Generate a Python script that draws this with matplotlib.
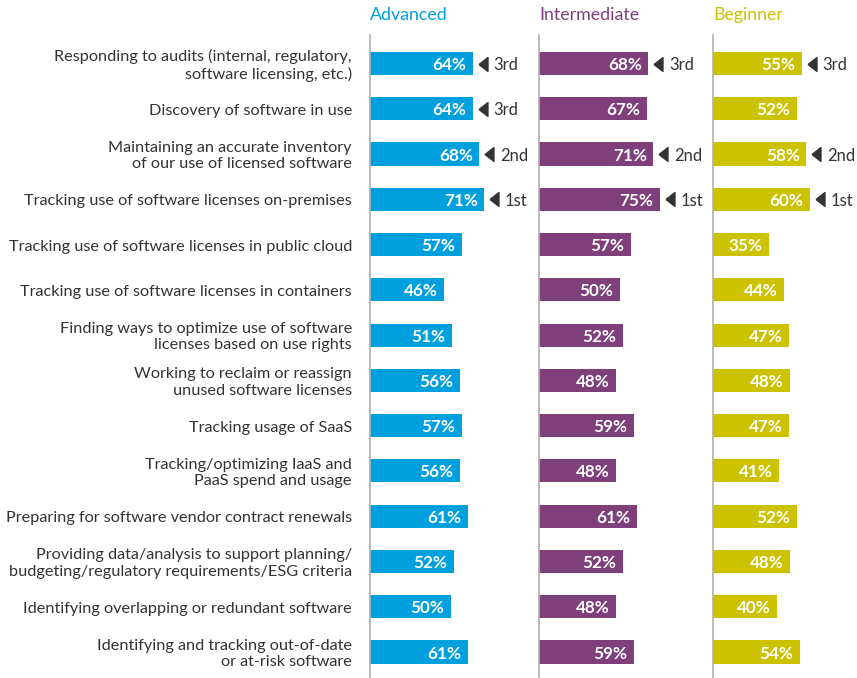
import matplotlib
matplotlib.use("Agg")
import matplotlib.pyplot as plt
from matplotlib.transforms import offset_copy

plt.rcParams['font.family'] = ['Lato', 'DejaVu Sans']

categories = [
    "Responding to audits (internal, regulatory,\nsoftware licensing, etc.)",
    "Discovery of software in use",
    "Maintaining an accurate inventory\nof our use of licensed software",
    "Tracking use of software licenses on-premises",
    "Tracking use of software licenses in public cloud",
    "Tracking use of software licenses in containers",
    "Finding ways to optimize use of software\nlicenses based on use rights",
    "Working to reclaim or reassign\nunused software licenses",
    "Tracking usage of SaaS",
    "Tracking/optimizing IaaS and\nPaaS spend and usage",
    "Preparing for software vendor contract renewals",
    "Providing data/analysis to support planning/\nbudgeting/regulatory requirements/ESG criteria",
    "Identifying overlapping or redundant software",
    "Identifying and tracking out-of-date\nor at-risk software",
]
groups = ["Advanced", "Intermediate", "Beginner"]
advanced = [64, 64, 68, 71, 57, 46, 51, 56, 57, 56, 61, 52, 50, 61]
intermediate = [68, 67, 71, 75, 57, 50, 52, 48, 59, 48, 61, 52, 48, 59]
beginner = [55, 52, 58, 60, 35, 44, 47, 48, 47, 41, 52, 48, 40, 54]
ranks_adv = {0: "3rd", 1: "3rd", 2: "2nd", 3: "1st"}
ranks_int = {0: "3rd", 2: "2nd", 3: "1st"}
ranks_beg = {0: "3rd", 2: "2nd", 3: "1st"}

series = [advanced, intermediate, beginner]
ranks = [ranks_adv, ranks_int, ranks_beg]
colors = ["#00A0DF", "#7E3F7B", "#CCC200"]

W, H = 857, 678
fig = plt.figure(figsize=(W / 100, H / 100), dpi=100)

panel_left = [370, 539, 713]
px_per_pct = 1.61
ax_top, ax_bot = 35, 678
row0, step = 63.5, 45.27
n = len(categories)
ylim_top = (ax_top - row0) / step
ylim_bot = (ax_bot - row0) / step

tri = [(-4.5, 0), (4.5, 7), (4.5, -7), (-4.5, 0)]

for k in range(3):
    xw = 100 * px_per_pct
    ax = fig.add_axes([panel_left[k] / W, 1 - ax_bot / H, xw / W, (ax_bot - ax_top) / H])
    ax.set_xlim(0, 100)
    ax.set_ylim(ylim_bot, ylim_top)
    ax.patch.set_alpha(0)
    for s in ["top", "right", "bottom"]:
        ax.spines[s].set_visible(False)
    ax.spines["left"].set_color("#b0b0b0")
    ax.spines["left"].set_linewidth(1.2)
    ax.set_xticks([])
    ax.set_yticks([])
    ys = list(range(n))
    ax.barh(ys, series[k], height=0.51, color=colors[k], zorder=1)
    for i, v in enumerate(series[k]):
        tr = offset_copy(ax.transData, fig=fig, x=-6.5, y=0, units='dots')
        ax.text(v, i, f"{v}%", transform=tr, ha='right', va='center_baseline',
                color='white', fontweight='bold', fontsize=12.3)
        if i in ranks[k]:
            trm = offset_copy(ax.transData, fig=fig, x=10, y=0, units='dots')
            ax.plot([v], [i], marker=tri, markersize=10, color='#333333',
                    transform=trm, clip_on=False, linestyle='none')
            tr2 = offset_copy(ax.transData, fig=fig, x=20.5, y=0, units='dots')
            ax.text(v, i, ranks[k][i], transform=tr2, ha='left', va='center_baseline',
                    color='#333333', fontsize=12)
    fig.text(panel_left[k] / W, 1 - 15 / H, groups[k], color=colors[k], fontsize=12.8,
             ha='left', va='center')

# category labels
lab_ax = fig.add_axes([0, 1 - ax_bot / H, 352 / W, (ax_bot - ax_top) / H])
lab_ax.set_xlim(0, 1)
lab_ax.set_ylim(ylim_bot, ylim_top)
lab_ax.axis('off')
trl = offset_copy(lab_ax.transData, fig=fig, x=0, y=-2, units='dots')
for i, c in enumerate(categories):
    lab_ax.text(1, i, c, ha='right', va='center', fontsize=11.7, color='#333333',
                linespacing=1.23, transform=trl)

fig.savefig("out.png", dpi=100)
